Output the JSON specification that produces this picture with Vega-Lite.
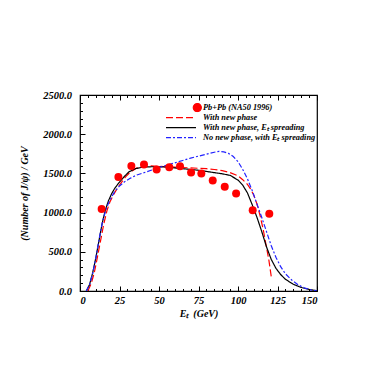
{
  "$schema": "https://vega.github.io/schema/vega-lite/v6.json",
  "width": 237,
  "height": 196,
  "autosize": "none",
  "padding": {"left": 80, "top": 95, "right": 66, "bottom": 80},
  "config": {
    "view": {"stroke": "black", "strokeWidth": 1.2},
    "font": "Liberation Serif",
    "axis": {
      "labelFont": "Liberation Serif", "labelFontWeight": "bold", "labelFontStyle": "italic", "labelFontSize": 10.5, "labelColor": "black",
      "titleFont": "Liberation Serif", "titleFontWeight": "bold", "titleFontStyle": "italic", "titleFontSize": 10, "titleColor": "black",
      "grid": false, "domain": false, "tickColor": "black", "tickWidth": 1
    }
  },
  "datasets": {
    "obs": [
      {"x": 13.7, "y": 1045, "series": "a"},
      {"x": 24.3, "y": 1455, "series": "a"},
      {"x": 32.5, "y": 1595, "series": "a"},
      {"x": 40.5, "y": 1615, "series": "a"},
      {"x": 48.5, "y": 1550, "series": "a"},
      {"x": 56.5, "y": 1580, "series": "a"},
      {"x": 63.3, "y": 1590, "series": "a"},
      {"x": 70.3, "y": 1510, "series": "a"},
      {"x": 76.8, "y": 1500, "series": "a"},
      {"x": 84.0, "y": 1410, "series": "a"},
      {"x": 91.6, "y": 1330, "series": "a"},
      {"x": 98.8, "y": 1245, "series": "a"},
      {"x": 109.3, "y": 1030, "series": "a"},
      {"x": 119.8, "y": 985, "series": "a"}
    ],
    "curves": [
      {"series": "b", "x": 5, "y": 0},
      {"series": "b", "x": 7, "y": 90},
      {"series": "b", "x": 9, "y": 230},
      {"series": "b", "x": 11, "y": 430},
      {"series": "b", "x": 13, "y": 640},
      {"series": "b", "x": 15, "y": 850},
      {"series": "b", "x": 17, "y": 1020},
      {"series": "b", "x": 19, "y": 1140},
      {"series": "b", "x": 21, "y": 1220},
      {"series": "b", "x": 23, "y": 1290},
      {"series": "b", "x": 26, "y": 1380},
      {"series": "b", "x": 29, "y": 1460},
      {"series": "b", "x": 32, "y": 1520},
      {"series": "b", "x": 36, "y": 1570},
      {"series": "b", "x": 40, "y": 1590},
      {"series": "b", "x": 45, "y": 1595},
      {"series": "b", "x": 50, "y": 1590},
      {"series": "b", "x": 55, "y": 1585},
      {"series": "b", "x": 60, "y": 1580},
      {"series": "b", "x": 65, "y": 1575},
      {"series": "b", "x": 70, "y": 1570},
      {"series": "b", "x": 75, "y": 1565},
      {"series": "b", "x": 80, "y": 1560},
      {"series": "b", "x": 85, "y": 1550},
      {"series": "b", "x": 90, "y": 1535},
      {"series": "b", "x": 95, "y": 1510},
      {"series": "b", "x": 100, "y": 1470},
      {"series": "b", "x": 103, "y": 1420},
      {"series": "b", "x": 106, "y": 1360},
      {"series": "b", "x": 108, "y": 1300},
      {"series": "b", "x": 110, "y": 1220},
      {"series": "b", "x": 112, "y": 1110},
      {"series": "b", "x": 114, "y": 960},
      {"series": "b", "x": 116, "y": 780},
      {"series": "b", "x": 118, "y": 560},
      {"series": "b", "x": 119.5, "y": 400},
      {"series": "b", "x": 120.5, "y": 260},
      {"series": "b", "x": 121.3, "y": 150},

      {"series": "c", "x": 4, "y": 0},
      {"series": "c", "x": 6, "y": 80},
      {"series": "c", "x": 8, "y": 230},
      {"series": "c", "x": 10, "y": 420},
      {"series": "c", "x": 12, "y": 640},
      {"series": "c", "x": 14, "y": 860},
      {"series": "c", "x": 16, "y": 1030},
      {"series": "c", "x": 18, "y": 1150},
      {"series": "c", "x": 20, "y": 1240},
      {"series": "c", "x": 22, "y": 1310},
      {"series": "c", "x": 25, "y": 1390},
      {"series": "c", "x": 28, "y": 1460},
      {"series": "c", "x": 31, "y": 1520},
      {"series": "c", "x": 35, "y": 1560},
      {"series": "c", "x": 40, "y": 1580},
      {"series": "c", "x": 45, "y": 1585},
      {"series": "c", "x": 50, "y": 1585},
      {"series": "c", "x": 55, "y": 1580},
      {"series": "c", "x": 60, "y": 1570},
      {"series": "c", "x": 65, "y": 1560},
      {"series": "c", "x": 70, "y": 1550},
      {"series": "c", "x": 75, "y": 1540},
      {"series": "c", "x": 80, "y": 1525},
      {"series": "c", "x": 85, "y": 1510},
      {"series": "c", "x": 90, "y": 1495},
      {"series": "c", "x": 95, "y": 1475},
      {"series": "c", "x": 100, "y": 1415},
      {"series": "c", "x": 103, "y": 1350},
      {"series": "c", "x": 106, "y": 1250},
      {"series": "c", "x": 109, "y": 1100},
      {"series": "c", "x": 112, "y": 940},
      {"series": "c", "x": 115, "y": 760},
      {"series": "c", "x": 118, "y": 565},
      {"series": "c", "x": 121, "y": 405},
      {"series": "c", "x": 124, "y": 290},
      {"series": "c", "x": 127, "y": 210},
      {"series": "c", "x": 130, "y": 150},
      {"series": "c", "x": 135, "y": 85},
      {"series": "c", "x": 140, "y": 45},
      {"series": "c", "x": 145, "y": 20},
      {"series": "c", "x": 150, "y": 3},

      {"series": "d", "x": 4, "y": 0},
      {"series": "d", "x": 6, "y": 80},
      {"series": "d", "x": 8, "y": 220},
      {"series": "d", "x": 10, "y": 420},
      {"series": "d", "x": 12, "y": 650},
      {"series": "d", "x": 14, "y": 860},
      {"series": "d", "x": 16, "y": 1010},
      {"series": "d", "x": 18, "y": 1120},
      {"series": "d", "x": 20, "y": 1200},
      {"series": "d", "x": 22, "y": 1270},
      {"series": "d", "x": 25, "y": 1340},
      {"series": "d", "x": 28, "y": 1390},
      {"series": "d", "x": 32, "y": 1440},
      {"series": "d", "x": 36, "y": 1480},
      {"series": "d", "x": 40, "y": 1505},
      {"series": "d", "x": 45, "y": 1540},
      {"series": "d", "x": 50, "y": 1575},
      {"series": "d", "x": 55, "y": 1605},
      {"series": "d", "x": 60, "y": 1635},
      {"series": "d", "x": 65, "y": 1665},
      {"series": "d", "x": 70, "y": 1695},
      {"series": "d", "x": 75, "y": 1720},
      {"series": "d", "x": 80, "y": 1745},
      {"series": "d", "x": 85, "y": 1770},
      {"series": "d", "x": 88, "y": 1782},
      {"series": "d", "x": 91, "y": 1775},
      {"series": "d", "x": 94, "y": 1755},
      {"series": "d", "x": 97, "y": 1715},
      {"series": "d", "x": 100, "y": 1650},
      {"series": "d", "x": 103, "y": 1550},
      {"series": "d", "x": 106, "y": 1430},
      {"series": "d", "x": 109, "y": 1280},
      {"series": "d", "x": 112, "y": 1110},
      {"series": "d", "x": 115, "y": 940},
      {"series": "d", "x": 118, "y": 760},
      {"series": "d", "x": 121, "y": 580},
      {"series": "d", "x": 124, "y": 430},
      {"series": "d", "x": 127, "y": 310},
      {"series": "d", "x": 130, "y": 220},
      {"series": "d", "x": 134, "y": 140},
      {"series": "d", "x": 138, "y": 80},
      {"series": "d", "x": 142, "y": 40},
      {"series": "d", "x": 146, "y": 15},
      {"series": "d", "x": 150, "y": 0}
    ]
  },
  "resolve": {"axis": {"x": "independent", "y": "independent"}},
  "layer": [
    {
      "data": {"name": "curves"},
      "mark": {"type": "line", "strokeWidth": 1.2, "clip": true},
      "encoding": {
        "x": {"field": "x", "type": "quantitative", "scale": {"domain": [0, 150], "nice": false},
          "axis": {"orient": "bottom", "values": [0, 25, 50, 75, 100, 125, 150], "ticks": false, "labelPadding": 4, "title": "Eₜ\u00a0\u00a0(GeV)", "titlePadding": 3}},
        "y": {"field": "y", "type": "quantitative", "scale": {"domain": [0, 2500], "nice": false},
          "axis": {"orient": "left", "values": [0, 500, 1000, 1500, 2000, 2500], "format": ".1f", "ticks": false, "labelPadding": 8.5, "title": "(Number of J/ψ) / GeV", "titlePadding": 13}},
        "color": {"field": "series", "type": "nominal",
          "scale": {"domain": ["a", "b", "c", "d"], "range": ["#ff0000", "#ff0000", "#000000", "#2222ff"]},
          "legend": {
            "orient": "none", "legendX": 86, "legendY": 8, "title": null,
            "labelExpr": "datum.value === 'a' ? 'Pb+Pb  (NA50 1996)' : datum.value === 'b' ? 'With new phase' : datum.value === 'c' ? 'With new phase, Eₜ spreading' : 'No new phase, with Eₜ spreading'",
            "labelFont": "Liberation Serif", "labelFontWeight": "bold", "labelFontStyle": "italic", "labelFontSize": 8.3, "labelColor": "black",
            "symbolSize": 64, "symbolStrokeWidth": 1.2, "labelOffset": 27, "rowPadding": -1, "clipHeight": 9.2,
            "encode": {
              "symbols": {
                "update": {
                  "shape": {"signal": "datum.value === 'a' ? 'circle' : 'M-3.75,0H3.75'"},
                  "x": {"signal": "datum.value === 'a' ? 31.3 : 15"},
                  "fill": {"signal": "datum.value === 'a' ? '#ff0000' : 'transparent'"},
                  "stroke": {"signal": "datum.value === 'a' ? 'transparent' : datum.value === 'b' ? '#ff0000' : datum.value === 'c' ? '#000000' : '#2222ff'"},
                  "strokeWidth": {"value": 1.2},
                  "strokeDash": {"signal": "datum.value === 'b' ? [7, 3] : datum.value === 'd' ? [5, 2, 2, 2] : [1, 0]"},
                  "opacity": {"value": 1}
                }
              }
            }
          }
        },
        "strokeDash": {"field": "series", "type": "nominal",
          "scale": {"domain": ["b", "c", "d"], "range": [[7, 3], [1, 0], [5, 2, 2, 2]]}, "legend": null}
      }
    },
    {
      "data": {"name": "obs"},
      "mark": {"type": "circle", "size": 64, "opacity": 1},
      "encoding": {
        "x": {"field": "x", "type": "quantitative",
          "axis": {"orient": "bottom", "values": [5, 10, 15, 20, 30, 35, 40, 45, 55, 60, 65, 70, 80, 85, 90, 95, 105, 110, 115, 120, 130, 135, 140, 145], "tickSize": -2.5, "labels": false, "title": null}},
        "y": {"field": "y", "type": "quantitative",
          "axis": {"orient": "left", "values": [100, 200, 300, 400, 600, 700, 800, 900, 1100, 1200, 1300, 1400, 1600, 1700, 1800, 1900, 2100, 2200, 2300, 2400], "tickSize": -2.5, "labels": false, "title": null}},
        "color": {"field": "series", "type": "nominal"}
      }
    },
    {
      "data": {"name": "obs"},
      "mark": {"type": "point", "opacity": 0},
      "encoding": {
        "x": {"field": "x", "type": "quantitative",
          "axis": {"orient": "top", "values": [0, 25, 50, 75, 100, 125, 150], "tickSize": -5, "labels": false, "title": null}},
        "y": {"field": "y", "type": "quantitative",
          "axis": {"orient": "left", "values": [0, 500, 1000, 1500, 2000, 2500], "tickSize": -5, "labels": false, "title": null}}
      }
    },
    {
      "data": {"name": "obs"},
      "mark": {"type": "point", "opacity": 0},
      "encoding": {
        "x": {"field": "x", "type": "quantitative",
          "axis": {"orient": "top", "values": [5, 10, 15, 20, 30, 35, 40, 45, 55, 60, 65, 70, 80, 85, 90, 95, 105, 110, 115, 120, 130, 135, 140, 145], "tickSize": -2.5, "labels": false, "title": null}},
        "y": {"field": "y", "type": "quantitative", "axis": null}
      }
    },
    {
      "data": {"name": "obs"},
      "mark": {"type": "point", "opacity": 0},
      "encoding": {
        "x": {"field": "x", "type": "quantitative",
          "axis": {"orient": "bottom", "values": [0, 25, 50, 75, 100, 125, 150], "tickSize": -5, "labels": false, "title": null}},
        "y": {"field": "y", "type": "quantitative", "axis": null}
      }
    }
  ]
}
